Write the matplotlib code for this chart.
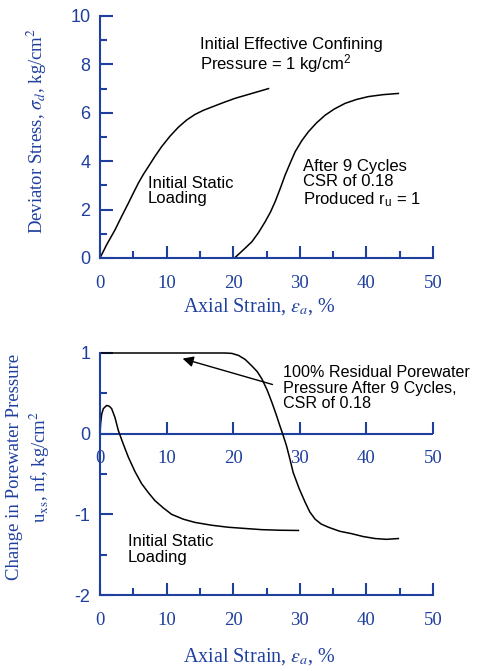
import numpy as np
import matplotlib
matplotlib.use("Agg")
import matplotlib.pyplot as plt
from matplotlib.ticker import MultipleLocator, FixedLocator

plt.rcParams["mathtext.fontset"] = "custom"
plt.rcParams["mathtext.rm"] = "Liberation Sans"
plt.rcParams["mathtext.it"] = "Liberation Sans:italic"
plt.rcParams["axes.unicode_minus"] = False

BLUE = "#1f3f9f"
SANS = "Liberation Sans"
SERIF = "Liberation Serif"

# --- data ---
# deviator stress, initial static loading
static_strain = [0, 1, 2.25, 3.25, 4.25, 5, 5.75, 6.5, 7.25, 8.25, 9.25, 10.5, 11.75, 13, 14.25,
                 15.5, 16.8, 18.5, 20.3, 22.8, 25.3]
static_stress = [0, 0.55, 1.16, 1.72, 2.26, 2.68, 3.09, 3.45, 3.77, 4.2, 4.6, 5.03, 5.4, 5.7, 5.93,
                 6.1, 6.24, 6.42, 6.6, 6.8, 7.0]
# deviator stress, after 9 cycles
cyc_strain = [20.2, 21.5, 22.8, 23.8, 24.8, 25.6, 26.3, 27.1, 27.8, 28.6, 29.3, 30.3, 31.3, 32.5,
              33.8, 35.2, 36.8, 38.5, 40.3, 42.5, 44.8]
cyc_stress = [0, 0.33, 0.67, 1.05, 1.5, 1.9, 2.33, 2.9, 3.43, 3.95, 4.39, 4.85, 5.22, 5.58,
              5.9, 6.16, 6.39, 6.55, 6.67, 6.75, 6.8]

# porewater pressure, initial static loading
pw_static_strain = [0, 0.1, 0.25, 0.5, 1.0, 1.4, 1.75, 2.25, 2.75, 3.5, 4.25, 5.25, 6.25, 7.25, 8.25,
                    9.5, 10.75, 12.5, 14.25, 16.75, 19.25, 21.75, 24.3, 27, 29.8]
pw_static_u = [0, 0.13, 0.24, 0.31, 0.35, 0.34, 0.31, 0.2, 0.04, -0.13, -0.29, -0.47, -0.62, -0.73, -0.83,
               -0.92, -1.0, -1.06, -1.1, -1.135, -1.16, -1.175, -1.19, -1.197, -1.2]
# porewater pressure, after 9 cycles (100% residual)
pw_cyc_strain = [0, 5, 10, 15, 18.8, 19.8, 20.8, 21.8, 22.8, 23.6, 24.3, 25.1, 25.8, 26.4, 27.0,
                 27.5, 28.0, 28.5, 29.0, 29.9, 30.8, 31.5, 32.3, 33.2, 34.3, 36, 37.8, 39.5, 41.3,
                 43, 44.8]
pw_cyc_u = [1, 1, 1, 1, 1, 0.995, 0.97, 0.92, 0.84, 0.77, 0.68, 0.54, 0.39, 0.25, 0.1,
            -0.02, -0.15, -0.31, -0.48, -0.68, -0.85, -0.97, -1.06, -1.12, -1.16, -1.21, -1.24, -1.275,
            -1.3, -1.31, -1.3]

strain_ticks = [0, 10, 20, 30, 40, 50]

fig = plt.figure(figsize=(4.78, 6.71), dpi=100)
ax1 = fig.add_axes([100 / 478, 1 - 258 / 671, 333 / 478, 242 / 671])
ax2 = fig.add_axes([100 / 478, 1 - 595 / 671, 333 / 478, 242 / 671])


def style_axes(ax):
    for s in ["top", "right"]:
        ax.spines[s].set_visible(False)
    for s in ["left", "bottom"]:
        ax.spines[s].set_color(BLUE)
        ax.spines[s].set_linewidth(1.5)
    ax.tick_params(which="both", direction="in", color=BLUE, width=1.5)
    ax.tick_params(which="major", length=9)
    ax.tick_params(which="minor", length=5)
    ax.tick_params(axis="y", labelcolor=BLUE, labelsize=13, pad=7)
    ax.tick_params(axis="x", labelcolor=BLUE, labelsize=13.5, pad=12)
    for lab in ax.get_yticklabels():
        lab.set_fontfamily(SANS)
    for lab in ax.get_xticklabels():
        lab.set_fontfamily(SERIF)
    ax.set_xlim(0, 50)
    ax.xaxis.set_major_locator(FixedLocator(strain_ticks))
    ax.xaxis.set_minor_locator(MultipleLocator(5))


# --- top panel ---
ax1.plot(static_strain, static_stress, color="black", lw=1.1)
ax1.plot(cyc_strain, cyc_stress, color="black", lw=1.1)
ax1.set_ylim(0, 10)
ax1.yaxis.set_major_locator(MultipleLocator(2))
ax1.yaxis.set_minor_locator(MultipleLocator(1))
style_axes(ax1)

txt = dict(fontsize=12, family=SANS, va="top", ha="left", linespacing=1.05)
ax1.text(15, 9.15, "Initial Effective Confining\nPressure = 1 kg/cm$^2$", **txt)
ax1.text(7.2, 3.4, "Initial Static\nLoading", **txt)
ax1.text(30.5, 4.1, "After 9 Cycles\nCSR of 0.18\nProduced r$_\\mathrm{u}$ = 1", **txt)

ax1.set_ylabel("Deviator Stress, $\\sigma_d$, kg/cm$^2$", color=BLUE, fontsize=13.5,
               family=SERIF, math_fontfamily="stix", va="center")
ax1.yaxis.set_label_coords(-0.19, 0.525)
ax1.set_xlabel("Axial Strain, $\\varepsilon_a$, %", color=BLUE, fontsize=14.5,
               family=SERIF, math_fontfamily="stix", va="center")
ax1.xaxis.set_label_coords(0.48, -0.2)

# --- bottom panel ---
ax2.plot(pw_static_strain, pw_static_u, color="black", lw=1.1, clip_on=False)
ax2.plot(pw_cyc_strain, pw_cyc_u, color="black", lw=1.1, clip_on=False)
ax2.set_ylim(-2, 1)
ax2.yaxis.set_major_locator(MultipleLocator(1))
ax2.yaxis.set_minor_locator(MultipleLocator(0.5))
style_axes(ax2)

# zero line with its own tick labels
ax2.axhline(0, color=BLUE, lw=1.5, zorder=1)
sec = ax2.secondary_xaxis(0, transform=ax2.transData)
sec.spines["bottom"].set_visible(False)
sec.xaxis.set_major_locator(FixedLocator(strain_ticks))
sec.tick_params(direction="in", color=BLUE, width=1.5, length=9,
                labelcolor=BLUE, labelsize=13.5, pad=12)
for lab in sec.get_xticklabels():
    lab.set_fontfamily(SERIF)

ax2.text(4.2, -1.25, "Initial Static\nLoading", **txt)
ax2.annotate("", xy=(12, 0.94), xytext=(26.3, 0.6),
             arrowprops=dict(arrowstyle="-|>", color="black", lw=1.0,
                             mutation_scale=16))
ax2.text(27.5, 0.85, "100% Residual Porewater\nPressure After 9 Cycles,\nCSR of 0.18",
         **{**txt, "fontsize": 11.6})

ax2.set_ylabel("Change in Porewater Pressure\nu$_\\mathrm{xs}$, nf, kg/cm$^2$", color=BLUE,
               fontsize=13.5, family=SERIF, math_fontfamily="stix", linespacing=1.3, va="center")
ax2.yaxis.set_label_coords(-0.213, 0.53)
ax2.set_xlabel("Axial Strain, $\\varepsilon_a$, %", color=BLUE, fontsize=14.5,
               family=SERIF, math_fontfamily="stix", va="center")
ax2.xaxis.set_label_coords(0.48, -0.256)

fig.savefig("out.png", dpi=100)
